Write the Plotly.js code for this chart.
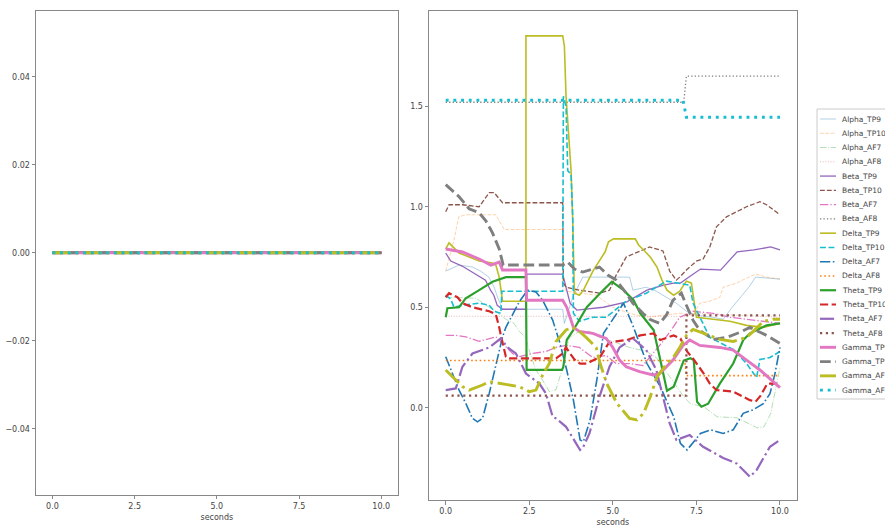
<!DOCTYPE html>
<html><head><meta charset="utf-8">
<script src="https://cdn.plot.ly/plotly-3.0.1.min.js"></script>
<style>html,body{margin:0;padding:0;background:#fff}#chart{width:885px;height:529px}</style>
</head><body><div id="chart"></div>
<script>
// ---------------- DATA ----------------
const seriesNames = ['Alpha_TP9','Alpha_TP10','Alpha_AF7','Alpha_AF8',
  'Beta_TP9','Beta_TP10','Beta_AF7','Beta_AF8',
  'Delta_TP9','Delta_TP10','Delta_AF7','Delta_AF8',
  'Theta_TP9','Theta_TP10','Theta_AF7','Theta_AF8',
  'Gamma_TP9','Gamma_TP10','Gamma_AF7','Gamma_AF8'];

// left panel: every series is flat at zero
const leftSeconds = [0, 10];
const leftValues = [0, 0];

// right panel: [seconds, value]
const alphaTP9 = [[0,0.68],[0.4,0.71],[0.8,0.70],[1.04,0.68],[1.29,0.65],[1.45,0.6],[1.55,0.55],[1.7,0.49],[3.5,0.49],[3.55,0.42],[3.8,0.55],[4.1,0.65],[5.5,0.65],[5.6,0.585],[6.0,0.6],[6.3,0.58],[6.6,0.55],[6.9,0.52],[7.2,0.48],[7.5,0.46],[8.0,0.45],[8.3,0.44],[8.57,0.5],[8.82,0.55],[9.07,0.6],[9.27,0.65],[9.6,0.645],[10,0.64]];
const alphaTP10 = [[0,0.68],[0.1,0.74],[0.24,0.83],[0.39,0.95],[0.6,0.96],[1.5,0.96],[1.6,0.93],[1.75,0.887],[3.5,0.887],[3.52,0.6],[3.6,0.58],[4.0,0.57],[4.5,0.56],[5.0,0.5],[5.5,0.47],[6.0,0.45],[6.5,0.46],[7.0,0.47],[7.4,0.46],[7.5,0.49],[7.6,0.52],[7.9,0.53],[8.2,0.55],[8.3,0.6],[8.7,0.62],[9.0,0.645],[9.27,0.665],[9.6,0.65],[10,0.64]];
const alphaAF7 = [[0,0.55],[0.9,0.545],[1.3,0.5],[1.5,0.48],[1.8,0.44],[2.04,0.42],[2.2,0.38],[2.39,0.35],[2.49,0.29],[2.69,0.19],[2.89,0.14],[3.1,0.08],[3.3,0.09],[3.5,0.2],[3.7,0.35],[4.0,0.38],[4.3,0.38],[4.6,0.35],[5.0,0.33],[5.5,0.3],[6.0,0.28],[6.3,0.25],[6.72,0.15],[7.12,0.055],[7.32,0.02],[7.72,0.005],[8.12,-0.045],[8.72,-0.05],[9.32,-0.1],[9.52,-0.095],[9.72,-0.03],[9.92,0.14],[10,0.2]];
const alphaAF8 = [[0,0.455],[7.2,0.455],[7.4,0.47],[8.5,0.46],[10,0.45]];
const betaTP9 = [[0,0.77],[0.15,0.73],[0.49,0.705],[0.94,0.66],[1.19,0.635],[1.34,0.585],[1.44,0.56],[1.54,0.51],[1.64,0.5],[1.7,0.49],[2.4,0.49],[2.42,0.665],[3.5,0.665],[3.6,0.6],[3.72,0.52],[3.92,0.486],[4.72,0.50],[5.42,0.527],[6.02,0.585],[6.52,0.61],[6.82,0.62],[7.02,0.62],[7.62,0.69],[8.22,0.685],[8.72,0.776],[9.22,0.785],[9.72,0.80],[10,0.785]];
const betaTP10 = [[0,0.975],[0.1,1.01],[0.5,1.01],[1.0,1.0],[1.3,1.07],[1.45,1.07],[1.7,1.02],[3.5,1.02],[3.52,0.62],[3.6,0.6],[4.0,0.585],[4.6,0.57],[4.9,0.585],[5.1,0.66],[5.4,0.75],[6.1,0.8],[6.5,0.78],[6.7,0.68],[6.9,0.635],[7.0,0.65],[7.2,0.685],[7.5,0.73],[7.7,0.74],[7.9,0.8],[8.1,0.9],[8.4,0.95],[8.7,0.975],[9.0,1.0],[9.4,1.025],[9.6,1.01],[10,0.96]];
const betaAF7 = [[0,0.36],[0.3,0.36],[0.6,0.353],[1.0,0.33],[1.5,0.353],[1.7,0.32],[2.0,0.27],[2.2,0.254],[2.6,0.27],[3.0,0.28],[3.3,0.30],[3.6,0.31],[4.0,0.3],[4.4,0.25],[4.8,0.26],[5.1,0.22],[5.5,0.22],[5.9,0.21],[6.2,0.27],[6.5,0.33],[6.8,0.4],[7.0,0.45],[7.4,0.48],[8.0,0.47],[8.5,0.45],[9.0,0.44],[9.5,0.43],[10,0.42]];
const betaAF8 = [[0,1.52],[7.12,1.52],[7.2,1.65],[10,1.65]];
const deltaTP9 = [[0,0.79],[0.1,0.82],[0.4,0.77],[0.7,0.75],[1.0,0.73],[1.4,0.72],[1.5,0.71],[1.6,0.65],[1.65,0.6],[1.7,0.53],[2.4,0.53],[2.4,1.85],[3.5,1.85],[3.55,1.8],[3.6,1.55],[3.7,1.27],[3.75,1.18],[3.8,0.93],[3.85,0.57],[4.0,0.56],[4.12,0.585],[4.42,0.685],[4.77,0.776],[4.87,0.826],[5.02,0.84],[5.67,0.84],[5.77,0.81],[5.92,0.785],[6.12,0.75],[6.32,0.70],[6.47,0.635],[6.62,0.585],[6.82,0.56],[7.0,0.58],[7.2,0.63],[7.35,0.62],[7.5,0.45],[8.0,0.44],[8.5,0.43],[9.0,0.41],[9.5,0.40],[10,0.42]];
const deltaTP10 = [[0,0.56],[0.15,0.54],[0.25,0.5],[0.5,0.51],[1.0,0.52],[1.3,0.51],[1.45,0.48],[1.65,0.47],[1.68,0.58],[3.5,0.58],[3.52,1.55],[3.6,1.5],[3.65,1.18],[3.75,1.16],[3.8,0.95],[3.82,0.47],[4.0,0.43],[4.4,0.45],[4.8,0.45],[5.4,0.53],[6.0,0.57],[6.6,0.63],[7.3,0.61],[7.4,0.52],[7.9,0.35],[8.6,0.29],[9.0,0.22],[9.3,0.15],[9.4,0.24],[9.7,0.25],[10,0.28]];
const deltaAF7 = [[0,0.254],[0.2,0.17],[0.4,0.088],[0.6,0.022],[0.8,-0.053],[0.95,-0.07],[1.1,-0.053],[1.3,0.07],[1.5,0.22],[1.7,0.353],[1.8,0.40],[2.2,0.527],[2.45,0.585],[2.7,0.576],[2.9,0.535],[3.2,0.436],[3.42,0.32],[3.62,0.188],[3.82,0.038],[4.02,-0.16],[4.12,-0.168],[4.32,-0.06],[4.52,0.138],[4.72,0.37],[5.12,0.47],[5.32,0.52],[5.62,0.40],[6.02,0.22],[6.42,0.105],[6.82,-0.045],[7.02,-0.177],[7.22,-0.21],[7.62,-0.128],[7.92,-0.11],[8.3,-0.128],[8.6,-0.11],[8.9,-0.028],[9.2,-0.01],[9.5,0.02],[9.7,0.07],[9.85,0.17],[10,0.30]];
const deltaAF8 = [[0,0.235],[7.15,0.235],[7.2,0.16],[10,0.16]];
const thetaTP9 = [[0,0.45],[0.05,0.495],[0.4,0.5],[0.6,0.545],[1.0,0.585],[1.4,0.627],[1.8,0.65],[2.4,0.65],[2.42,0.188],[3.48,0.188],[3.52,0.204],[3.62,0.337],[3.82,0.387],[4.22,0.5],[4.62,0.57],[4.97,0.627],[5.32,0.585],[5.62,0.535],[5.82,0.47],[6.22,0.387],[6.42,0.237],[6.62,0.085],[6.82,0.105],[7.12,0.235],[7.32,0.246],[7.42,0.237],[7.52,0.03],[7.65,0.005],[7.85,0.02],[8.2,0.12],[8.6,0.22],[8.9,0.337],[9.1,0.37],[9.6,0.41],[10,0.42]];
const thetaTP10 = [[0,0.55],[0.1,0.57],[0.35,0.55],[0.5,0.52],[0.8,0.50],[1.1,0.49],[1.3,0.48],[1.5,0.465],[1.55,0.436],[1.6,0.40],[1.65,0.36],[1.75,0.287],[1.8,0.254],[1.9,0.246],[3.3,0.246],[3.5,0.27],[3.6,0.3],[3.72,0.27],[3.85,0.24],[4.02,0.22],[4.22,0.22],[4.62,0.254],[4.87,0.32],[5.1,0.33],[5.42,0.337],[5.82,0.36],[6.22,0.37],[6.42,0.337],[6.82,0.36],[7.02,0.345],[7.22,0.28],[7.42,0.24],[7.72,0.17],[7.9,0.12],[8.1,0.088],[8.6,0.08],[9.1,0.038],[9.27,0.03],[9.42,0.06],[9.62,0.12],[10,0.12]];
const thetaAF7 = [[0,0.088],[0.3,0.096],[0.5,0.204],[0.8,0.27],[1.3,0.30],[1.65,0.345],[1.85,0.30],[2.1,0.27],[2.4,0.17],[2.8,0.12],[3.0,0.07],[3.2,-0.045],[3.3,-0.053],[3.6,-0.095],[3.9,-0.177],[4.02,-0.21],[4.1,-0.2],[4.3,-0.128],[4.6,0.055],[4.9,0.204],[5.2,0.30],[5.6,0.345],[6.0,0.287],[6.3,0.188],[6.5,0.055],[6.7,-0.078],[6.9,-0.16],[7.3,-0.136],[7.7,-0.194],[8.3,-0.25],[8.7,-0.277],[9.1,-0.343],[9.3,-0.31],[9.7,-0.194],[10,-0.16]];
const thetaAF8 = [[0,0.06],[7.2,0.06],[7.2,0.46],[10,0.46]];
const gammaTP9 = [[0,0.79],[0.5,0.775],[1.0,0.74],[1.35,0.71],[1.6,0.725],[1.7,0.685],[2.4,0.685],[2.42,0.535],[3.5,0.535],[3.62,0.5],[3.82,0.4],[4.0,0.38],[4.4,0.37],[4.8,0.345],[5.0,0.30],[5.2,0.237],[5.4,0.204],[5.8,0.18],[6.2,0.163],[6.4,0.17],[6.8,0.237],[7.1,0.31],[7.3,0.337],[7.6,0.31],[8.2,0.30],[8.6,0.287],[9.0,0.237],[9.4,0.188],[10,0.1]];
const gammaTP10 = [[0,1.11],[0.4,1.05],[0.7,0.99],[1.0,0.97],[1.2,0.93],[1.4,0.87],[1.6,0.79],[1.72,0.71],[3.5,0.71],[3.65,0.725],[3.85,0.69],[4.1,0.675],[4.4,0.69],[4.6,0.70],[4.85,0.66],[5.1,0.635],[5.4,0.57],[5.6,0.52],[5.9,0.47],[6.1,0.44],[6.4,0.42],[6.6,0.46],[6.8,0.535],[7.05,0.57],[7.2,0.51],[7.4,0.435],[7.6,0.385],[8.0,0.34],[8.4,0.35],[8.8,0.375],[9.1,0.40],[9.6,0.36],[10,0.32]];
const gammaAF7 = [[0,0.188],[0.3,0.138],[0.5,0.105],[0.7,0.088],[1.1,0.113],[1.3,0.13],[1.9,0.113],[2.2,0.105],[2.5,0.08],[2.7,0.088],[2.9,0.163],[3.1,0.22],[3.3,0.33],[3.6,0.387],[3.8,0.40],[4.0,0.38],[4.2,0.35],[4.5,0.3],[4.62,0.22],[4.82,0.12],[5.12,0.022],[5.5,-0.053],[5.72,-0.06],[5.92,-0.028],[6.12,0.055],[6.32,0.154],[6.62,0.22],[6.82,0.254],[7.0,0.3],[7.2,0.36],[7.4,0.39],[7.7,0.37],[8.2,0.34],[8.6,0.33],[9.0,0.35],[9.2,0.38],[9.5,0.43],[9.8,0.44],[10,0.44]];
const gammaAF8 = [[0,1.53],[7.1,1.53],[7.2,1.445],[10,1.445]];

const rightSeries = [alphaTP9, alphaTP10, alphaAF7, alphaAF8,
  betaTP9, betaTP10, betaAF7, betaAF8,
  deltaTP9, deltaTP10, deltaAF7, deltaAF8,
  thetaTP9, thetaTP10, thetaAF7, thetaAF8,
  gammaTP9, gammaTP10, gammaAF7, gammaAF8];

// ---------------- STYLE ----------------
const tab10 = ['#1f77b4','#ff7f0e','#2ca02c','#d62728','#9467bd','#8c564b','#e377c2','#7f7f7f','#bcbd22','#17becf'];
const bandWidths = [1.0, 1.3, 1.6, 2.2, 2.9];
const bandAlpha = [0.35, 1, 1, 1, 1];
const dashCycle = ['solid','dash','dashdot','dot'];

function hexA(hex, a) {
  const r = parseInt(hex.slice(1,3),16), g = parseInt(hex.slice(3,5),16), b = parseInt(hex.slice(5,7),16);
  return `rgba(${r},${g},${b},${a})`;
}
function dashStr(kind, w) {
  const f = v => (v*w).toFixed(2) + 'px';
  if (kind === 'dash') return [f(3.7), f(1.6)].join(',');
  if (kind === 'dashdot') return [f(6.4), f(1.6), f(1), f(1.6)].join(',');
  if (kind === 'dot') return [f(1), f(1.65)].join(',');
  return 'solid';
}
const styles = seriesNames.map((n, i) => {
  const band = Math.floor(i / 4);
  const w = bandWidths[band];
  return {color: hexA(tab10[i % 10], bandAlpha[band]), width: w, dash: dashStr(dashCycle[i % 4], w)};
});

const W = 885, H = 529;
const fx = px => px / W;
const fy = py => 1 - py / H;

const traces = [];
seriesNames.forEach((n, i) => {
  traces.push({x: leftSeconds, y: leftValues, name: n, type: 'scatter', mode: 'lines',
    xaxis: 'x', yaxis: 'y', line: {color: styles[i].color, width: styles[i].width, dash: styles[i].dash}, showlegend: false, hoverinfo: 'skip'});
});
seriesNames.forEach((n, i) => {
  traces.push({x: rightSeries[i].map(p => p[0]), y: rightSeries[i].map(p => p[1]), name: n, type: 'scatter', mode: 'lines',
    xaxis: 'x2', yaxis: 'y2', line: {color: styles[i].color, width: styles[i].width, dash: styles[i].dash}, showlegend: false, hoverinfo: 'skip'});
});

const tickFont = {family: 'DejaVu Sans', size: 8, color: '#444'};
const axisBase = {showline: true, mirror: true, linecolor: '#888', linewidth: 1, ticks: 'outside', ticklen: 3.5,
  tickwidth: 1, tickcolor: '#888', tickfont: tickFont, showgrid: false, zeroline: false, automargin: false, fixedrange: true};

// legend drawn as shapes + text (the reference legend runs past the right edge)
const legendShapes = [{type: 'rect', xref: 'paper', yref: 'paper', x0: fx(817), x1: fx(905), y0: fy(399), y1: fy(109),
  line: {color: '#cccccc', width: 1}, fillcolor: 'rgba(255,255,255,0.9)', layer: 'above'}];
const legendAnn = [];
seriesNames.forEach((n, i) => {
  const py = 119 + i * 14.27;
  legendShapes.push({type: 'line', xref: 'paper', yref: 'paper', x0: fx(820), x1: fx(836), y0: fy(py), y1: fy(py),
    line: {color: styles[i].color, width: styles[i].width, dash: styles[i].dash}, layer: 'above'});
  legendAnn.push({xref: 'paper', yref: 'paper', x: fx(839.5), y: fy(py), xanchor: 'left', yanchor: 'middle',
    text: n, showarrow: false, font: {family: 'DejaVu Sans', size: 7.5, color: '#444'}});
});

const layout = {
  width: W, height: H, margin: {l: 0, r: 0, t: 0, b: 0, pad: 0},
  paper_bgcolor: '#ffffff', plot_bgcolor: '#ffffff', showlegend: false,
  xaxis: Object.assign({}, axisBase, {domain: [fx(36), fx(397.7)], range: [-0.5, 10.5], anchor: 'y',
    tickvals: [0, 2.5, 5, 7.5, 10], tickformat: '.1f', title: {text: 'seconds', font: tickFont, standoff: 4}}),
  yaxis: Object.assign({}, axisBase, {domain: [fy(494.7), fy(10.7)], range: [-0.055, 0.055], anchor: 'x',
    tickvals: [-0.04, -0.02, 0, 0.02, 0.04], tickformat: '.2f'}),
  xaxis2: Object.assign({}, axisBase, {domain: [fx(429), fx(796.7)], range: [-0.5, 10.5], anchor: 'y2',
    tickvals: [0, 2.5, 5, 7.5, 10], tickformat: '.1f', title: {text: 'seconds', font: tickFont, standoff: 4}}),
  yaxis2: Object.assign({}, axisBase, {domain: [fy(500), fy(11)], range: [-0.459, 1.974], anchor: 'x2',
    tickvals: [0, 0.5, 1.0, 1.5], tickformat: '.1f'}),
  shapes: legendShapes,
  annotations: legendAnn
};

Plotly.newPlot('chart', traces, layout, {staticPlot: true, displayModeBar: false});
</script>
</body></html>
